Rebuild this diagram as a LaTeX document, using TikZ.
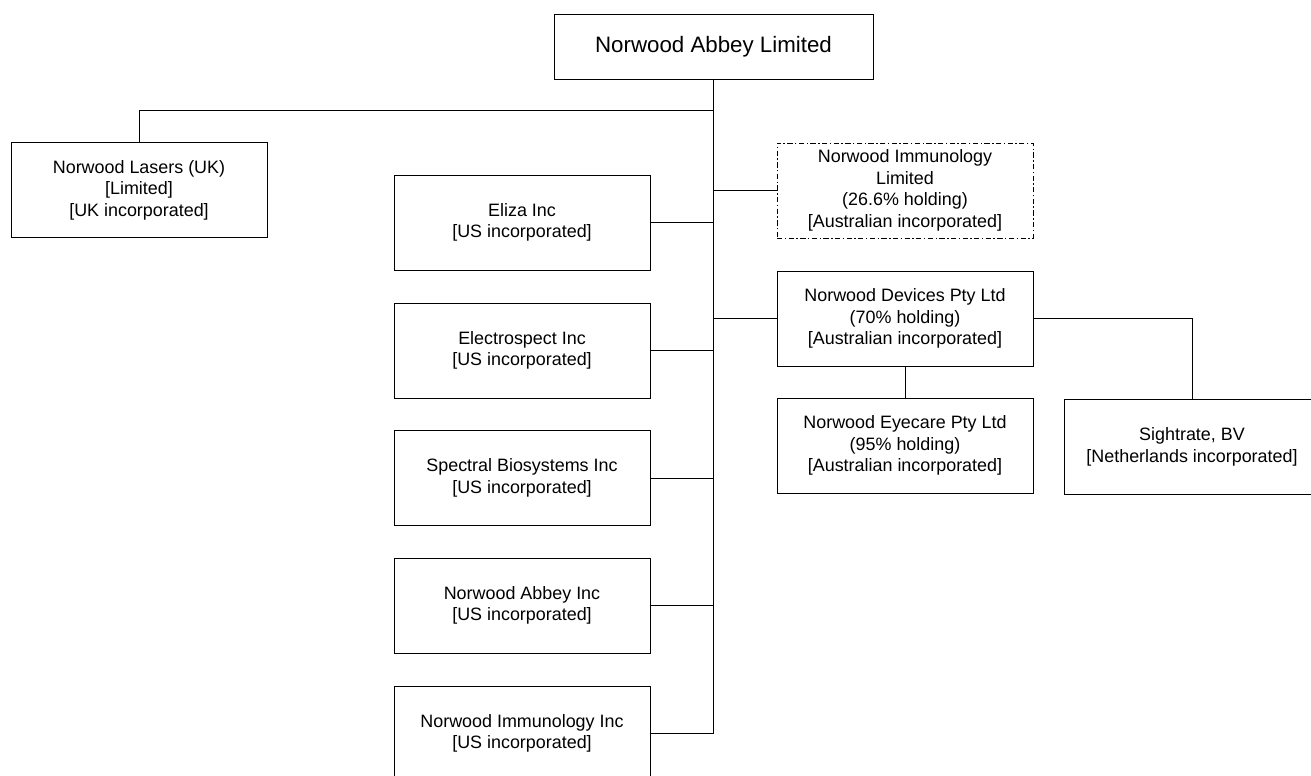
\documentclass[tikz,border=0pt]{standalone}
\usepackage{fontspec}
\setmainfont{Liberation Sans}
\usetikzlibrary{positioning}

\tikzset{
  box/.style={draw, line width=0.5pt, align=center, inner sep=0pt,
    minimum width=5.12cm, minimum height=1.9cm,
    font=\fontsize{10.2}{12.3}\selectfont},
  topbox/.style={box, minimum width=6.38cm, minimum height=1.3cm,
    font=\fontsize{12.7}{15}\selectfont},
  partbox/.style={box, dash pattern=on 3pt off 1.4pt on 0.8pt off 1.4pt},
  link/.style={draw, line width=0.5pt}
}

\begin{document}
\begin{tikzpicture}[x=0.02cm, y=-0.02cm]
    \useasboundingbox (0,0) rectangle (1311,776);
    \node [topbox] (nal) at (713.5,46.5) {Norwood Abbey Limited};
    \node [box] (lasers) at (139,190) {Norwood Lasers (UK)\\ {[Limited]}\\ {[UK incorporated]}};
    \node [box] (eliza) at (522,222.5) {Eliza Inc\\ {[US incorporated]}};
    \node [box] (espect) at (522,350.5) {Electrospect Inc\\ {[US incorporated]}};
    \node [box] (spectral) at (522,478) {Spectral Biosystems Inc\\ {[US incorporated]}};
    \node [box] (nainc) at (522,605.5) {Norwood Abbey Inc\\ {[US incorporated]}};
    \node [box] (niinc) at (522,733.5) {Norwood Immunology Inc\\ {[US incorporated]}};
    \node [partbox] (nilim) at (905,190.5) {Norwood Immunology\\ Limited\\ (26.6\% holding)\\ {[Australian incorporated]}};
    \node [box] (devices) at (905,318.5) {Norwood Devices Pty Ltd\\ (70\% holding)\\ {[Australian incorporated]}};
    \node [box] (eyecare) at (905,445.5) {Norwood Eyecare Pty Ltd\\ (95\% holding)\\ {[Australian incorporated]}};
    \node [box] (sightrate) at (1192,447) {Sightrate, BV\\ {[Netherlands incorporated]}};
    \coordinate (split) at (713,110.5);
    \path [link] (nal.south) |- (niinc.east);
    \path [link] (split) -| (lasers.north);
    \path [link] (eliza.east) -- (eliza.east -| nal.south);
    \path [link] (espect.east) -- (espect.east -| nal.south);
    \path [link] (spectral.east) -- (spectral.east -| nal.south);
    \path [link] (nainc.east) -- (nainc.east -| nal.south);
    \path [link] (nilim.west) -- (nilim.west -| nal.south);
    \path [link] (devices.west) -- (devices.west -| nal.south);
    \path [link] (devices.east) -| (sightrate.north);
    \path [link] (devices.south) -- (eyecare.north);
\end{tikzpicture}
\end{document}
